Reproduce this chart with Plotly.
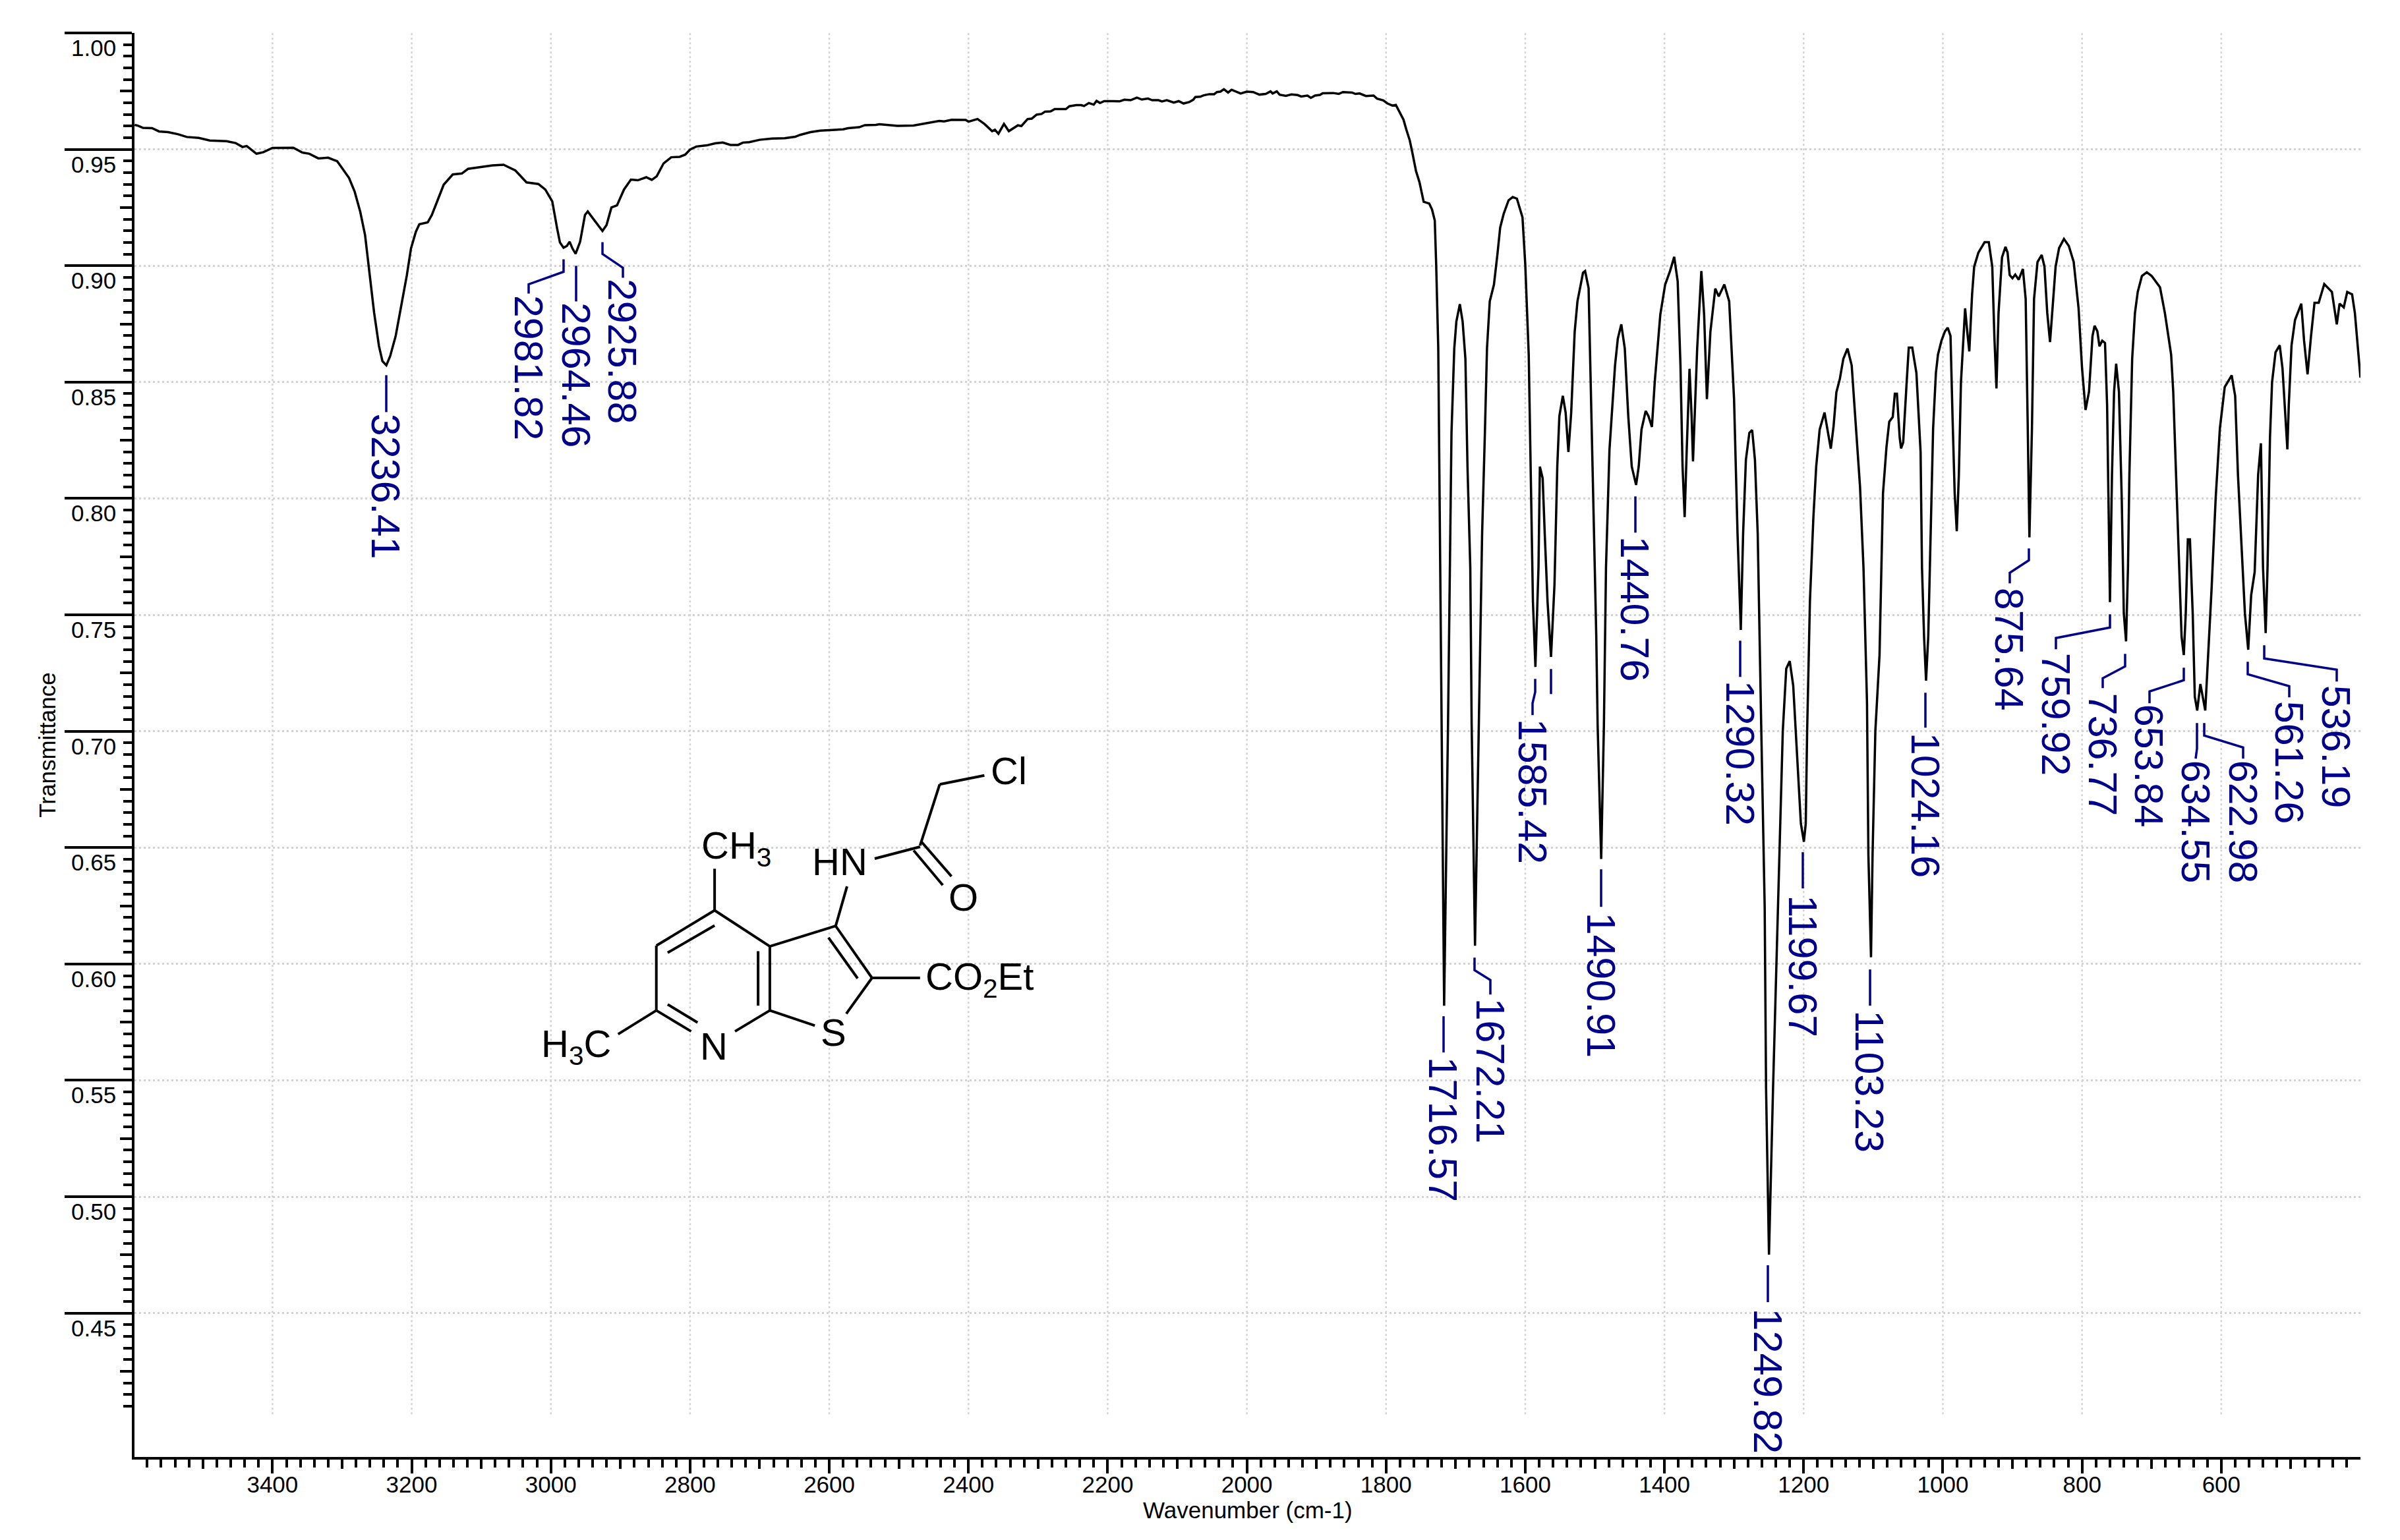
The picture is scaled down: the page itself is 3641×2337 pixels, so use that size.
"""IR spectrum of the thienopyridine chloroacetamide, with peak labels and structure inset."""

import plotly.graph_objects as go

WAVENUMBER = [
    3598, 3593, 3586, 3573, 3563, 3550, 3536, 3523, 3506, 3490, 3466, 3453, 3443, 3437, 3423, 3413,
    3400, 3387, 3370, 3357, 3347, 3334, 3320, 3307, 3297, 3290, 3282, 3274, 3267, 3260, 3254, 3247,
    3242, 3236.41, 3231, 3223, 3214, 3207, 3201, 3194, 3189, 3177, 3171, 3162, 3154, 3141, 3128, 3119,
    3101, 3084, 3068, 3051, 3035, 3018, 3008, 2998, 2991, 2987, 2981.82, 2977, 2973, 2969, 2964.46, 2958,
    2951, 2947, 2938, 2932, 2925.88, 2920, 2913, 2905, 2895, 2885, 2875, 2863, 2855, 2848,
    2838, 2827, 2815, 2807, 2800, 2791, 2776, 2764, 2753, 2742, 2731, 2724, 2715, 2700, 2682, 2664,
    2649, 2642, 2627, 2613, 2598, 2580, 2573, 2557, 2549, 2533, 2528, 2502, 2479, 2460, 2442, 2435,
    2424, 2404, 2400, 2387, 2377, 2366, 2362, 2357, 2349, 2342, 2329, 2324, 2315, 2309, 2302, 2295,
    2290, 2282, 2276, 2260, 2255, 2245, 2238, 2234, 2227, 2220, 2216, 2211, 2205, 2192, 2183, 2176,
    2167, 2158, 2151, 2142, 2136, 2127, 2122, 2115, 2105, 2098, 2091, 2083, 2077, 2074, 2067, 2062,
    2054, 2047, 2043, 2038, 2033, 2027, 2022, 2009, 2000, 1991, 1982, 1973, 1966, 1963, 1957, 1953,
    1944, 1936, 1927, 1922, 1913, 1908, 1902, 1895, 1891, 1876, 1868, 1862, 1849, 1844, 1838, 1829,
    1818, 1813, 1804, 1798, 1791, 1786, 1782, 1775, 1771, 1766, 1762, 1757, 1752, 1746, 1738, 1734,
    1730, 1728, 1725, 1723, 1720, 1716.57, 1711, 1708, 1706, 1702, 1699, 1694, 1690, 1686, 1683, 1679,
    1677, 1672.21, 1667, 1662, 1658, 1655, 1651, 1645, 1640, 1636, 1631, 1624, 1618, 1612, 1604, 1600,
    1595, 1592, 1589, 1585.42, 1581, 1579, 1575, 1572, 1568, 1563, 1558, 1554, 1551, 1546, 1542, 1538,
    1534, 1529, 1525, 1517, 1514, 1509, 1503, 1498, 1496, 1490.91, 1487, 1484, 1479, 1471, 1467, 1462,
    1457, 1452, 1447, 1440.76, 1437, 1433, 1427, 1423, 1418, 1414, 1406, 1399, 1392, 1386, 1381, 1377,
    1374, 1371, 1368, 1364, 1361, 1359, 1353, 1347, 1343, 1339, 1334, 1327, 1322, 1314, 1307, 1300,
    1295, 1290.32, 1287, 1283, 1278, 1274, 1270, 1266, 1261, 1256, 1254, 1249.82, 1244, 1237, 1230, 1225,
    1220, 1215, 1212, 1209, 1204, 1199.67, 1197, 1195, 1191, 1186, 1182, 1177, 1170, 1165, 1161, 1157,
    1153, 1148, 1143, 1137, 1131, 1126, 1119, 1114, 1109, 1107, 1103.23, 1101, 1097, 1091, 1088, 1086,
    1081, 1077, 1072, 1069, 1066, 1062, 1060, 1057, 1052, 1049, 1044, 1038, 1032, 1030, 1027, 1024.16,
    1021, 1018, 1014, 1010, 1007, 1002, 997, 993, 989, 986, 983, 980, 977, 974, 970, 968,
    965, 962, 958, 955, 949, 940, 934, 929, 926, 923, 920, 915, 910, 907, 904, 900,
    896, 891, 885, 881, 878, 875.64, 872, 869, 864, 858, 854, 850, 846, 843, 838, 833,
    826, 819, 812, 805, 800, 795, 790, 785, 782, 778, 775, 771, 767, 764, 762, 759.92,
    757, 754, 751, 747, 743, 740, 736.77, 734, 732, 728, 724, 720, 714, 707, 700, 688,
    681, 672, 669, 666, 661, 657, 653.84, 651, 648, 645, 641, 638, 634.55, 630, 622.98, 619,
    614, 608, 602, 595, 585, 580, 576, 571, 566, 561.26, 557, 552, 547, 543, 540, 536.19,
    533.5, 530, 527, 522, 516, 512, 508, 505, 503, 499, 494, 485, 481, 476, 471, 466,
    460, 452, 441, 434, 430, 424, 419, 412, 408, 400,
]
TRANSMITTANCE = [
    .9605, .9601, .9592, .9591, .9577, .9574, .9565, .9553, .9549, .9538, .9535, .9527, .9510, .9514, .9481, .9488,
    .9506, .9506, .9507, .9486, .9481, .9461, .9464, .9449, .9406, .9377, .9319, .9233, .9132, .8958, .8799, .8655,
    .8590, .8572, .8611, .8698, .8843, .8958, .9074, .9146, .9178, .9186, .9218, .9290, .9348, .9392, .9396, .9416,
    .9423, .9431, .9434, .9409, .9358, .9351, .9327, .9276, .9160, .9100, .9077, .9085, .9103, .9074, .9051, .9103,
    .9218, .9233, .9197, .9172, .9149, .9175, .9250, .9259, .9327, .9370, .9367, .9380, .9369, .9384,
    .944, .9466, .9468, .9477, .9499, .9512, .9517, .9526, .9529, .9519, .9519, .9529, .9531, .9541, .9546, .9548,
    .9554, .9562, .9574, .958, .9582, .9586, .9591, .9595, .9604, .9605, .9608, .9601, .9602, .9613, .9622, .962,
    .9627, .9626, .9619, .963, .9609, .9578, .9584, .9567, .9609, .9578, .9603, .96, .963, .9632, .9649, .9652,
    .9662, .9663, .9673, .9673, .9685, .969, .969, .9686, .9699, .9692, .9708, .9699, .9707, .9707, .9706, .9713,
    .9711, .9722, .9714, .9718, .9711, .9711, .9706, .9711, .9701, .9707, .9697, .9703, .9713, .9725, .9726, .9732,
    .9737, .9737, .9746, .9748, .9758, .9744, .9756, .974, .9748, .9746, .9735, .9738, .9749, .974, .9749, .9735,
    .973, .9736, .9733, .9727, .9731, .9721, .9731, .9734, .9741, .9742, .9738, .9746, .9744, .9738, .974, .9729,
    .9731, .9718, .971, .9697, .9688, .9691, .9669, .9628, .9586, .9539, .9482, .9407, .9359, .9275, .9267, .9242,
    .9194, .9006, .8644, .7992, .7025, .5821, .7025, .7848, .8282, .8644, .876, .8835, .876, .86, .8137, .7703,
    .7025, .6078, .7025, .7848, .8282, .8644, .8847, .8919, .9049, .9165, .9223, .9281, .9295, .9288, .9208, .9006,
    .8615, .8137, .7558, .7276, .7703, .8137, .8087, .7848, .7558, .7319, .7631, .8137, .8354, .8441, .8369, .82,
    .8369, .8716, .8847, .897, .8977, .8904, .8137, .7413, .7025, .6451, .7025, .7703, .821, .8572, .8687, .8748,
    .8644, .8354, .8137, .8058, .8137, .8296, .8376, .8354, .8307, .8499, .8789, .8919, .8977, .9038, .8933, .8572,
    .8137, .792, .821, .8557, .8354, .8159, .8644, .8977, .8789, .8427, .8716, .8902, .8868, .8919, .8847, .8427,
    .7848, .7435, .7848, .8166, .8282, .8294, .8166, .7848, .7025, .6246, .5464, .4751, .5464, .6246, .70, .7269,
    .7301, .7196, .7025, .6848, .6603, .6525, .6603, .70, .7558, .792, .8137, .8296, .8369, .8282, .8214, .8311,
    .8456, .8514, .86, .8644, .8572, .8354, .805, .77, .7124, .6469, .6029, .6469, .70, .7327, .7804, .8022,
    .8221, .833, .835, .845, .845, .8261, .8215, .8241, .8499, .8648, .8648, .8539, .8201, .7704, .7406, .7217,
    .7406, .7804, .83, .8539, .8618, .8678, .8718, .8734, .8698, .834, .8022, .7859, .8102, .8499, .8738, .8817,
    .8718, .8632, .8877, .8996, .9056, .9101, .9101, .8996, .8698, .8473, .8797, .9036, .9081, .9056, .896, .8946,
    .8962, .894, .8986, .8857, .83, .7833, .83, .8857, .9016, .9046, .8996, .8797, .8672, .8797, .8996, .9076,
    .9115, .9085, .9016, .8817, .8559, .838, .8459, .8698, .8742, .8718, .8654, .8678, .8668, .84, .7903, .7555,
    .8102, .8459, .8579, .8459, .8002, .7506, .7386, .7704, .8102, .8599, .8797, .8887, .8956, .8972, .8956, .8907,
    .8797, .8618, .8459, .8201, .7704, .7406, .7327, .7506, .7824, .7824, .7506, .7148, .7089, .7203, .7089, .7307,
    .7605, .8002, .83, .8479, .8529, .844, .8102, .7804, .7506, .735, .7585, .7684, .8102, .8237, .7704, .7422,
    .7704, .8261, .8499, .8628, .8658, .8559, .836, .8211, .84, .8658, .8767, .8837, .8678, .8533, .8698, .8841,
    .8841, .8921, .8887, .8748, .8837, .8821, .8887, .8877, .8797, .8519,
]

X_LABELLED = [3400, 3200, 3000, 2800, 2600, 2400, 2200, 2000, 1800, 1600, 1400, 1200, 1000, 800, 600]
X_MEDIUM = [3500, 3300, 3100, 2900, 2700, 2500, 2300, 2100, 1900, 1700, 1500, 1300, 1100, 900, 700, 500]
X_MINOR = [w for w in range(420, 3600, 20) if w % 100 != 0]
Y_LABELLED = [1.00, 0.95, 0.90, 0.85, 0.80, 0.75, 0.70, 0.65, 0.60, 0.55, 0.50, 0.45]
Y_MEDIUM = [0.975, 0.925, 0.875, 0.825, 0.775, 0.725, 0.675, 0.625, 0.575, 0.525, 0.475, 0.425]
Y_MINOR = [i / 1000 for i in range(410, 1000, 5) if i % 25 != 0]

PEAK_LABELS = [
    "3236.41", "2981.82", "2964.46", "2925.88", "1716.57", "1672.21", "1585.42", "1490.91", "1440.76",
    "1290.32", "1249.82", "1199.67", "1103.23", "1024.16", "875.64", "759.92", "736.77", "653.84",
    "634.55", "622.98", "561.26", "536.19",
]

W, H = 3641, 2337
LEFT, RIGHT, TOP, BOTTOM = 204, 3581, 49.5, 2211
NAVY = "#00008B"
GRID = "#d3d3d3"
FONT = "Liberation Sans"
X_RANGE = [3598.3, 400]
Y_RANGE = [0.3882, 1.0]
LABEL_LIFT = 3  # the first digit's side bearing pushes the ink a little below the anchor

# leader polylines and label anchor (x centre, top y), in page pixels; same order as PEAK_LABELS
LEADERS = [
    ([(586, 569), (586, 625)], (585, 629)),
    ([(855, 393), (855, 412), (802, 431), (802, 445)], (802, 449)),
    ([(874, 403), (874, 457)], (874, 460)),
    ([(914, 367), (914, 385), (945, 406), (945, 421)], (944, 424)),
    ([(2190, 1542), (2190, 1597)], (2189, 1605)),
    ([(2237, 1453), (2237, 1472), (2261, 1487), (2261, 1509)], (2261, 1516)),
    ([(2329, 1030), (2329, 1050), (2325, 1067), (2325, 1085)], (2325, 1092)),
    ([(2429, 1319), (2429, 1376)], (2429, 1386)),
    ([(2481, 753), (2481, 808)], (2480, 815)),
    ([(2640, 972), (2640, 1027)], (2640, 1034)),
    ([(2682, 1920), (2682, 1976)], (2682, 1987)),
    ([(2735, 1293), (2735, 1348)], (2735, 1360)),
    ([(2837, 1471), (2837, 1526)], (2836, 1535)),
    ([(2921, 1051), (2921, 1104)], (2921, 1113)),
    ([(3078, 832), (3078, 850), (3049, 869), (3049, 885)], (3048, 893)),
    ([(3201, 932), (3201, 952), (3119, 968), (3119, 985)], (3119, 992)),
    ([(3224, 992), (3224, 1011), (3190, 1029), (3190, 1044)], (3190, 1053)),
    ([(3313, 1013), (3313, 1032), (3261, 1049), (3261, 1067)], (3260, 1070)),
    ([(3333, 1097), (3333, 1136), (3331, 1151)], (3331, 1155)),
    ([(3344, 1097), (3344, 1116), (3403, 1134), (3403, 1151)], (3403, 1155)),
    ([(3410, 1004), (3410, 1023), (3473, 1041), (3473, 1058)], (3473, 1065)),
    ([(3435, 979), (3435, 999), (3545, 1016), (3545, 1034)], (3544, 1041)),
]
UNLABELLED_LEADER = [(2353, 1015), (2353, 1053)]

# structure inset: bonds and atom labels, in a local drawing frame
BONDS = [
    ((582, 735), (428, 875)), ((582, 795), (458, 903)), ((428, 875), (428, 1132)),
    ((428, 1132), (520, 1215)), ((458, 1108), (537, 1180)), ((636, 1215), (728, 1132)),
    ((728, 1132), (728, 878)), ((697, 1113), (697, 897)), ((728, 878), (582, 735)),
    ((582, 735), (582, 570)), ((428, 1132), (327, 1226)), ((728, 878), (902, 797)),
    ((902, 797), (998, 1003)), ((883, 843), (960, 1005)), ((998, 1003), (930, 1145)),
    ((847, 1192), (728, 1132)), ((998, 1003), (1125, 1003)), ((902, 797), (932, 640)),
    ((1005, 530), (1125, 483)), ((1128, 462), (1208, 600)), ((1108, 497), (1185, 635)),
    ((1125, 478), (1177, 235)), ((1177, 235), (1295, 200)),
]
ATOMS = [
    ("N", 580, 1274, "center"), ("S", 896, 1218, "center"), ("O", 1240, 682, "center"),
    ("HN", 912, 542, "center"), ("Cl", 1310, 182, "left"),
    ("CH<sub>3</sub>", 545, 487, "left"), ("CO<sub>2</sub>Et", 1138, 1008, "left"),
    ("H<sub>3</sub>C", 122, 1274, "left"),
]


def page_x(px):
    return (px - LEFT) / (RIGHT - LEFT)


def page_y(py):
    return (BOTTOM - py) / (BOTTOM - TOP)


def mol(p):
    return 750 + p[0] / 1.742, 1100 + p[1] / 2.613


def polyline(points, color, width):
    path = "M " + " L ".join(f"{page_x(x):.5f} {page_y(y):.5f}" for x, y in points)
    return dict(type="path", path=path, xref="paper", yref="paper",
                line=dict(color=color, width=width))


fig = go.Figure()
fig.add_trace(go.Scatter(
    x=WAVENUMBER, y=TRANSMITTANCE, mode="lines",
    line=dict(color="black", width=3.5),
    hovertemplate="%{x} cm-1<br>T = %{y:.3f}<extra></extra>",
))
# invisible trace so the overlay axes with the mid-length ticks get drawn
fig.add_trace(go.Scatter(x=X_MEDIUM, y=Y_MEDIUM, mode="markers", marker=dict(opacity=0),
                         xaxis="x2", yaxis="y2", hoverinfo="skip"))

shapes = []
for w in X_LABELLED:
    shapes.append(dict(type="line", xref="x", yref="y", x0=w, x1=w, y0=0.4065, y1=1.0, layer="below",
                       line=dict(color=GRID, width=2.5, dash="3px,4px")))
for points, _ in LEADERS:
    shapes.append(polyline(points, NAVY, 3.5))
shapes.append(polyline(UNLABELLED_LEADER, NAVY, 3.5))
for a, b in BONDS:
    shapes.append(polyline([mol(a), mol(b)], "black", 4))

annotations = []
for text, (_, (lx, ly)) in zip(PEAK_LABELS, LEADERS):
    annotations.append(dict(
        text=text, xref="paper", yref="paper", x=page_x(lx), y=page_y(ly - LABEL_LIFT),
        xanchor="center", yanchor="top", textangle=90, showarrow=False, borderpad=0,
        font=dict(family=FONT, size=61, color=NAVY),
    ))
for value in Y_LABELLED:
    annotations.append(dict(
        text=f"{value:.2f}", xref="paper", yref="y", x=page_x(142), y=value, yshift=-2,
        xanchor="center", yanchor="top", showarrow=False, borderpad=0,
        font=dict(family=FONT, size=35, color="black"),
    ))
for text, zx, zy, anchor in ATOMS:
    x, y = mol((zx, zy))
    annotations.append(dict(
        text=text, xref="paper", yref="paper", x=page_x(x), y=page_y(y),
        xanchor=anchor, yanchor="middle", showarrow=False, borderpad=0,
        font=dict(family=FONT, size=58, color="black"),
    ))
# standoff cannot go below 0, so the x title sits in an annotation to get close enough to the labels
annotations.append(dict(
    text="Wavenumber (cm-1)", xref="paper", yref="paper", x=0.5, y=page_y(2292),
    xanchor="center", yanchor="middle", showarrow=False, borderpad=0,
    font=dict(family=FONT, size=35, color="black"),
))

fig.update_layout(
    width=W, height=H, autosize=False, showlegend=False,
    margin=dict(l=LEFT, r=W - RIGHT, t=TOP, b=H - BOTTOM, pad=0),
    plot_bgcolor="white", paper_bgcolor="white",
    font=dict(family=FONT, size=34, color="black"),
    shapes=shapes, annotations=annotations,
    xaxis=dict(
        range=X_RANGE, tickmode="array", tickvals=X_LABELLED, ticktext=[str(v) for v in X_LABELLED],
        ticks="outside", ticklen=21, tickwidth=4, tickcolor="black", ticklabelstandoff=-13,
        showline=True, linewidth=4, linecolor="black", showgrid=False, zeroline=False,
        tickfont=dict(family=FONT, size=35),
        minor=dict(tickmode="array", tickvals=X_MINOR, ticks="outside", ticklen=12, tickwidth=4,
                   tickcolor="black", showgrid=False),
    ),
    yaxis=dict(
        range=Y_RANGE, tickmode="array", tickvals=Y_LABELLED, showticklabels=False,
        ticks="outside", ticklen=102, tickwidth=4, tickcolor="black",
        showline=True, linewidth=4, linecolor="black",
        showgrid=True, gridcolor=GRID, gridwidth=2.5, griddash="3px,4px", zeroline=False,
        minor=dict(tickmode="array", tickvals=Y_MINOR, ticks="outside", ticklen=13, tickwidth=4,
                   tickcolor="black", showgrid=False),
        title=dict(text="Transmittance", font=dict(family=FONT, size=35), standoff=4),
    ),
    xaxis2=dict(range=X_RANGE, overlaying="x", anchor="y2", tickmode="array", tickvals=X_MEDIUM,
                showticklabels=False, ticks="outside", ticklen=17, tickwidth=4, tickcolor="black",
                showline=False, showgrid=False, zeroline=False),
    yaxis2=dict(range=Y_RANGE, overlaying="y", anchor="x2", tickmode="array", tickvals=Y_MEDIUM,
                showticklabels=False, ticks="outside", ticklen=21, tickwidth=4, tickcolor="black",
                showline=False, showgrid=False, zeroline=False),
)

fig.write_html("out.html", config={"displayModeBar": False}, post_script="document.body.style.margin='0';")
